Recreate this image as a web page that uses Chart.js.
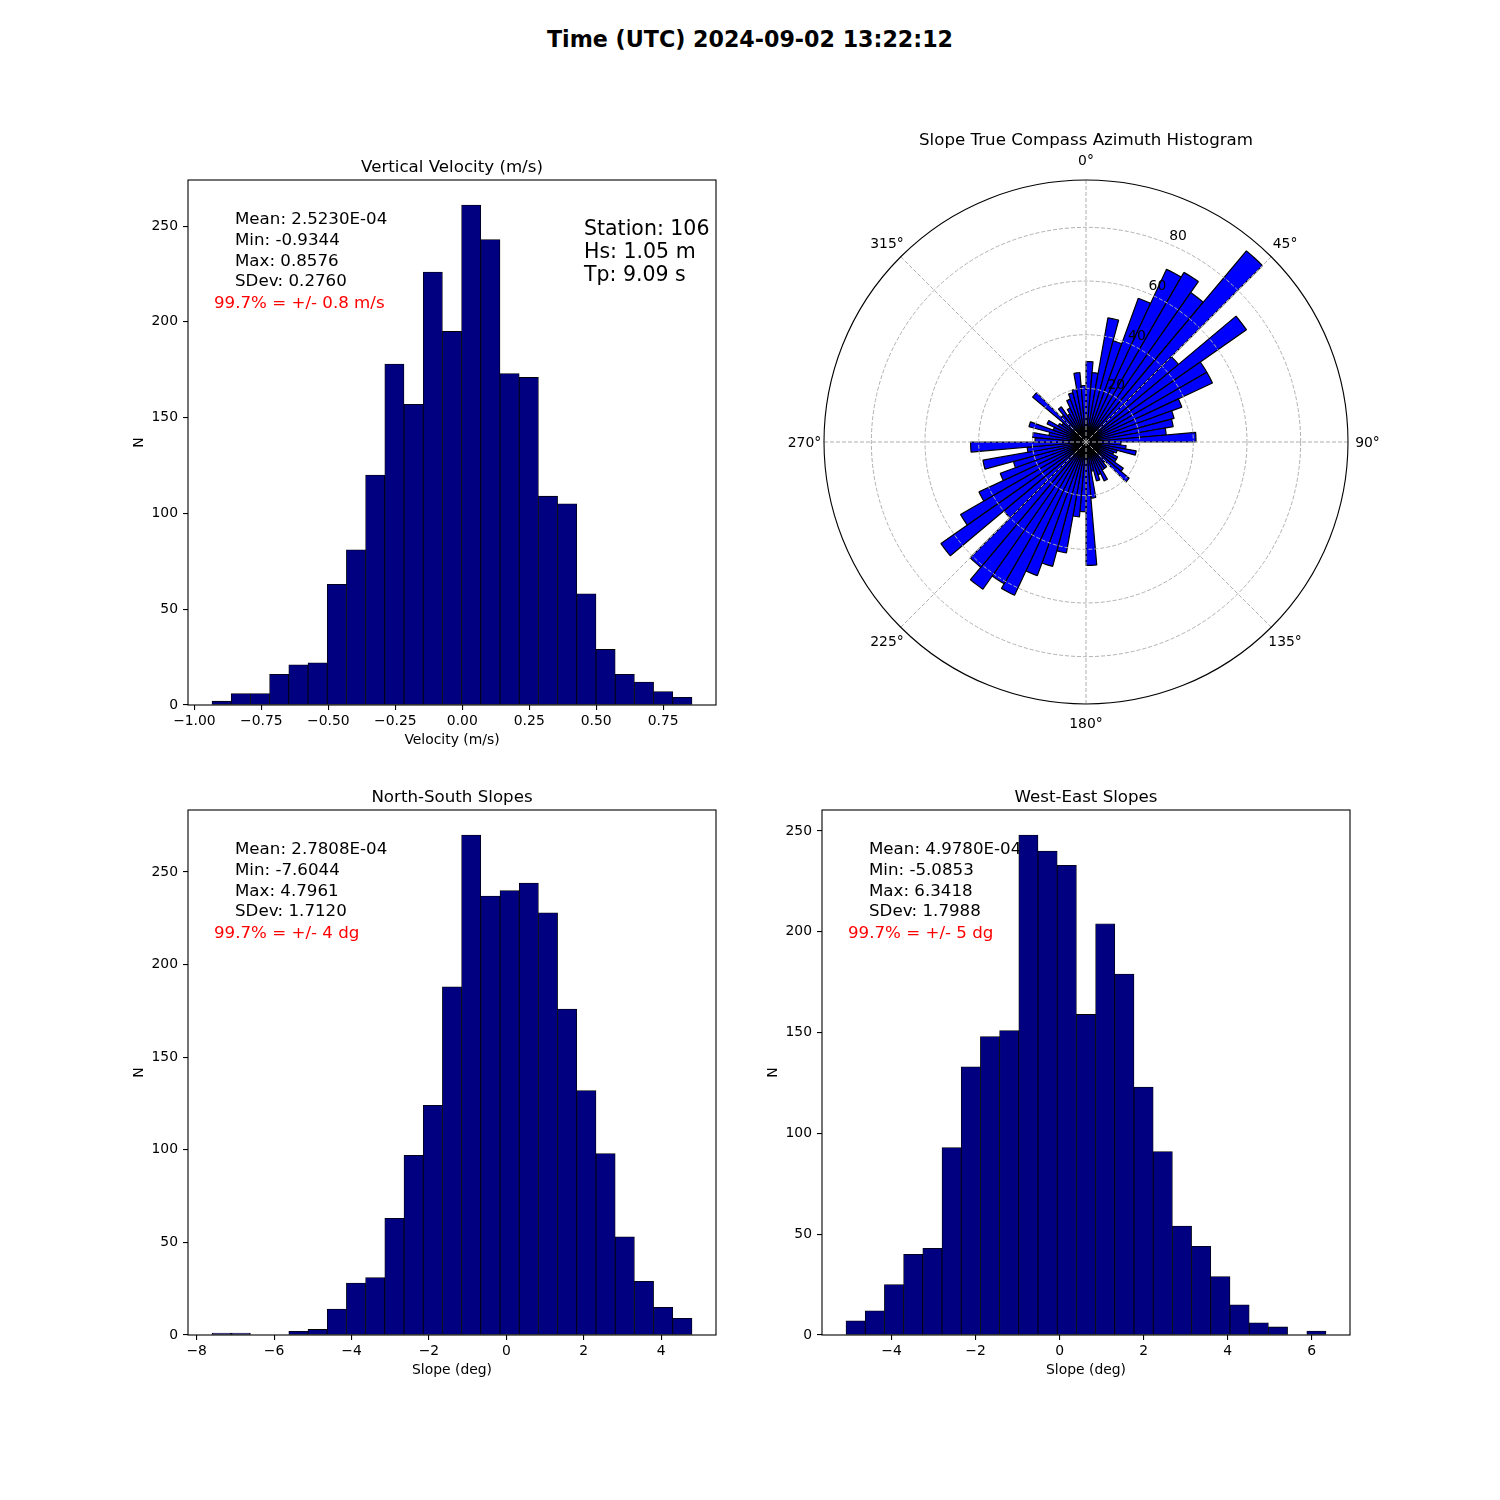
<!DOCTYPE html>
<html>
<head>
<meta charset="utf-8">
<script src="https://cdn.jsdelivr.net/npm/chart.js@4.4.0/dist/chart.umd.min.js"></script>
<style>
  body { margin: 0; background: #fff; }
  #page { position: relative; width: 1500px; height: 1500px; overflow: hidden; font-family: 'DejaVu Sans', sans-serif; }
  #suptitle { position: absolute; left: 0; top: 26px; width: 1500px; line-height: 26px; text-align: center;
              font: bold 22.2px 'DejaVu Sans', sans-serif; color: #000; }
  canvas { position: absolute; }
  #vv { left: 100px; top: 120px; }
  #az { left: 786px; top: 100px; }
  #ns { left: 100px; top: 750px; }
  #we { left: 734px; top: 750px; }
</style>
</head>
<body>
<div id="page">
  <div id="suptitle">Time (UTC) 2024-09-02 13:22:12</div>
  <canvas id="vv" width="650" height="640"></canvas>
  <canvas id="az" width="600" height="685"></canvas>
  <canvas id="ns" width="650" height="640"></canvas>
  <canvas id="we" width="650" height="640"></canvas>
</div>
<script>
// Vertical velocity histogram (25 bins between min and max)
const vvCounts = [2, 6, 6, 16, 21, 22, 63, 81, 120, 178, 157, 226, 195, 261, 243, 173, 171, 109, 105, 58, 29, 16, 12, 7, 4];
const vvRange = [-0.9344, 0.8576];
const vvXTicks = [-1.0, -0.75, -0.5, -0.25, 0, 0.25, 0.5, 0.75];
const vvYTicks = [0, 50, 100, 150, 200, 250];
const vvStats = ['Mean: 2.5230E-04', 'Min: -0.9344', 'Max: 0.8576', 'SDev: 0.2760'];
const vvSpread = '99.7% = +/- 0.8 m/s';
const stationText = ['Station: 106', 'Hs: 1.05 m', 'Tp: 9.09 s'];

// North-South slopes
const nsCounts = [1, 1, 0, 0, 2, 3, 14, 28, 31, 63, 97, 124, 188, 270, 237, 240, 244, 228, 176, 132, 98, 53, 29, 15, 9];
const nsRange = [-7.6044, 4.7961];
const nsXTicks = [-8, -6, -4, -2, 0, 2, 4];
const nsYTicks = [0, 50, 100, 150, 200, 250];
const nsStats = ['Mean: 2.7808E-04', 'Min: -7.6044', 'Max: 4.7961', 'SDev: 1.7120'];
const nsSpread = '99.7% = +/- 4 dg';

// West-East slopes
const weCounts = [7, 12, 25, 40, 43, 93, 133, 148, 151, 248, 240, 233, 159, 204, 179, 123, 91, 54, 44, 29, 15, 6, 4, 0, 2];
const weRange = [-5.0853, 6.3418];
const weXTicks = [-4, -2, 0, 2, 4, 6];
const weYTicks = [0, 50, 100, 150, 200, 250];
const weStats = ['Mean: 4.9780E-04', 'Min: -5.0853', 'Max: 6.3418', 'SDev: 1.7988'];
const weSpread = '99.7% = +/- 5 dg';

// Azimuth histogram, 72 bins of 5 degrees clockwise from north
const azCounts = [
  30, 26, 47, 39, 57, 71, 73, 68, 93, 45, 73, 52, 52, 38, 34, 33, 30, 41,
  13, 15, 19, 12, 11, 13, 13, 17, 21, 10, 12, 12, 16, 13, 15, 11, 21, 46,
  26, 28, 42, 48, 53, 63, 61, 67, 61, 40, 66, 54, 44, 34, 28, 39, 22, 43,
  19, 20, 14, 22, 13, 16, 12, 11, 26, 13, 16, 12, 14, 17, 19, 20, 26, 21
];
const azRings = [20, 40, 60, 80];
const azAngles = [0, 45, 90, 135, 180, 225, 270, 315];

const FONT = "'DejaVu Sans', sans-serif";
const tickFont = { family: FONT, size: 13.9 };

function minus(s) { return String(s).replace('-', '\u2212'); }

function binCenters(range, n) {
  const w = (range[1] - range[0]) / n;
  return Array.from({ length: n }, (_, i) => range[0] + (i + 0.5) * w);
}

function histogram(id, cfg) {
  const centers = binCenters(cfg.range, cfg.counts.length);
  const pad = (cfg.range[1] - cfg.range[0]) * 0.05;
  const yMax = Math.max(...cfg.counts) * 1.05;

  const decor = {
    id: 'decor',
    beforeDatasetsDraw(chart) {
      const { ctx, chartArea: a } = chart;
      ctx.save();
      ctx.textBaseline = 'middle';
      ctx.textAlign = 'left';
      ctx.font = '16.67px ' + FONT;
      ctx.fillStyle = '#000';
      cfg.stats.forEach((t, i) => ctx.fillText(t, a.left + 47, a.top + 40 + i * 20.7));
      ctx.fillStyle = '#ff0000';
      ctx.fillText(cfg.spread, a.left + 26, a.top + 124);
      if (cfg.station) {
        ctx.fillStyle = '#000';
        ctx.font = '20.5px ' + FONT;
        cfg.station.forEach((t, i) => ctx.fillText(t, a.left + 396, a.top + 50 + i * 23));
      }
      ctx.restore();
    },
    afterDraw(chart) {
      const { ctx, chartArea: a } = chart;
      ctx.save();
      ctx.strokeStyle = '#000';
      ctx.lineWidth = 1.1;
      ctx.strokeRect(a.left, a.top, a.right - a.left, a.bottom - a.top);
      ctx.fillStyle = '#000';
      ctx.font = '16.67px ' + FONT;
      ctx.textAlign = 'center';
      ctx.textBaseline = 'middle';
      ctx.fillText(cfg.title, (a.left + a.right) / 2, a.top - 12);
      ctx.restore();
    }
  };

  return new Chart(document.getElementById(id), {
    type: 'bar',
    data: {
      datasets: [{
        data: cfg.counts.map((c, i) => ({ x: centers[i], y: c })),
        backgroundColor: '#000080',
        borderColor: '#000000',
        borderWidth: 0.8,
        borderSkipped: false,
        barPercentage: 1,
        categoryPercentage: 1
      }]
    },
    options: {
      responsive: false,
      animation: false,
      layout: { padding: { left: 0, right: 34, top: 60, bottom: 0 } },
      plugins: { legend: { display: false }, tooltip: { enabled: false } },
      scales: {
        x: {
          type: 'linear',
          min: cfg.range[0] - pad,
          max: cfg.range[1] + pad,
          offset: false,
          afterFit: s => { s.height = 55; },
          afterBuildTicks: s => { s.ticks = cfg.xTicks.map(v => ({ value: v })); },
          grid: { display: true, drawOnChartArea: false, drawTicks: true, tickLength: 5, color: '#000', lineWidth: 1.1, offset: false },
          border: { display: false },
          ticks: { autoSkip: false, maxRotation: 0, padding: 3, color: '#000', font: tickFont,
                   callback: v => minus(v.toFixed(cfg.xDecimals)) },
          title: { display: true, text: cfg.xLabel, color: '#000', font: tickFont, padding: { top: 0, bottom: 11.7 } }
        },
        y: {
          min: 0,
          max: yMax,
          afterFit: s => { s.width = 88; },
          afterBuildTicks: s => { s.ticks = cfg.yTicks.map(v => ({ value: v })); },
          grid: { display: true, drawOnChartArea: false, drawTicks: true, tickLength: 5, color: '#000', lineWidth: 1.1 },
          border: { display: false },
          ticks: { autoSkip: false, padding: 5, color: '#000', font: tickFont, callback: v => String(v) },
          title: { display: true, text: 'N', color: '#000', font: tickFont, padding: { top: 30.7, bottom: 0 } }
        }
      }
    },
    plugins: [decor]
  });
}

histogram('vv', { counts: vvCounts, range: vvRange, xTicks: vvXTicks, yTicks: vvYTicks, xDecimals: 2,
  title: 'Vertical Velocity (m/s)', xLabel: 'Velocity (m/s)', stats: vvStats, spread: vvSpread, station: stationText });
histogram('ns', { counts: nsCounts, range: nsRange, xTicks: nsXTicks, yTicks: nsYTicks, xDecimals: 0,
  title: 'North-South Slopes', xLabel: 'Slope (deg)', stats: nsStats, spread: nsSpread });
histogram('we', { counts: weCounts, range: weRange, xTicks: weXTicks, yTicks: weYTicks, xDecimals: 0,
  title: 'West-East Slopes', xLabel: 'Slope (deg)', stats: weStats, spread: weSpread });

// Polar grid, labels and title drawn over the wedges, like the original
const polarDecor = {
  id: 'polarDecor',
  afterDatasetsDraw(chart) {
    const ctx = chart.ctx;
    const s = chart.scales.r;
    const cx = s.xCenter, cy = s.yCenter, R = s.drawingArea;
    const rad = d => (d - 90) * Math.PI / 180;
    ctx.save();
    ctx.strokeStyle = '#b0b0b0';
    ctx.lineWidth = 1;
    ctx.setLineDash([4, 2]);
    azRings.forEach(v => {
      ctx.beginPath();
      ctx.arc(cx, cy, s.getDistanceFromCenterForValue(v), 0, Math.PI * 2);
      ctx.stroke();
    });
    azAngles.forEach(d => {
      ctx.beginPath();
      ctx.moveTo(cx, cy);
      ctx.lineTo(cx + R * Math.cos(rad(d)), cy + R * Math.sin(rad(d)));
      ctx.stroke();
    });
    ctx.setLineDash([]);
    ctx.strokeStyle = '#000';
    ctx.lineWidth = 1.1;
    ctx.beginPath();
    ctx.arc(cx, cy, R, 0, Math.PI * 2);
    ctx.stroke();

    ctx.fillStyle = '#000';
    ctx.font = '13.9px ' + FONT;
    ctx.textAlign = 'center';
    ctx.textBaseline = 'middle';
    azAngles.forEach(d => {
      ctx.fillText(d + '\u00b0', cx + (R + 19.5) * Math.cos(rad(d)), cy + (R + 19.5) * Math.sin(rad(d)) + 1);
    });
    ctx.textAlign = 'left';
    ctx.textBaseline = 'bottom';
    azRings.forEach(v => {
      const r = s.getDistanceFromCenterForValue(v);
      ctx.fillText(String(v), cx + r * Math.cos(rad(22.5)) + 1, cy + r * Math.sin(rad(22.5)));
    });
    ctx.font = '16.67px ' + FONT;
    ctx.textAlign = 'center';
    ctx.textBaseline = 'middle';
    ctx.fillText('Slope True Compass Azimuth Histogram', cx, cy - R - 39);
    ctx.restore();
  }
};

new Chart(document.getElementById('az'), {
  type: 'polarArea',
  data: {
    labels: azCounts.map((_, i) => i * 5),
    datasets: [{
      data: azCounts,
      backgroundColor: '#0000ff',
      borderColor: '#000000',
      borderWidth: 1.2
    }]
  },
  options: {
    responsive: false,
    animation: false,
    layout: { padding: { left: 37.5, right: 37.5, top: 80, bottom: 80 } },
    plugins: { legend: { display: false }, tooltip: { enabled: false } },
    scales: {
      r: {
        min: 0,
        max: Math.max(...azCounts) * 1.05,
        ticks: { display: false },
        grid: { display: false },
        angleLines: { display: false },
        pointLabels: { display: false }
      }
    }
  },
  plugins: [polarDecor]
});
</script>
</body>
</html>
